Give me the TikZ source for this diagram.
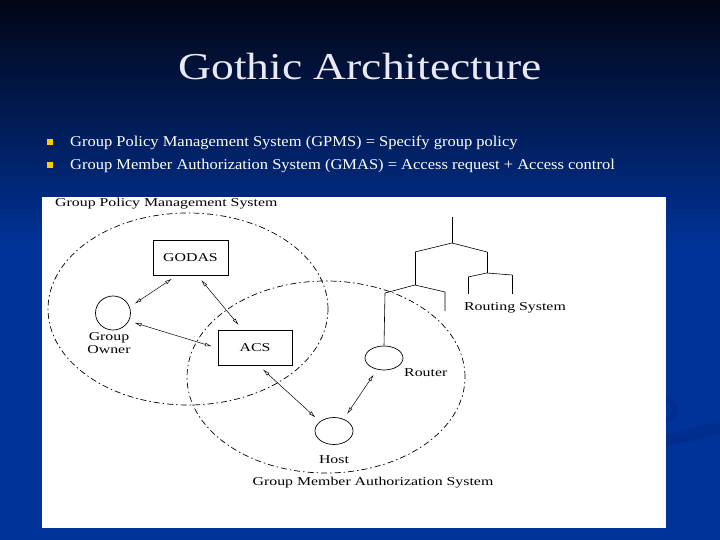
\documentclass[tikz,border=0pt]{standalone}
\usepackage{fontspec}
\setmainfont{Liberation Serif}
\usepackage{xcolor}
\usepackage{graphicx}
\usepackage{tikz}
\usetikzlibrary{arrows.meta,shapes.geometric}

\definecolor{slidetop}{RGB}{2,6,22}
\definecolor{slideblue}{RGB}{0,51,153}
\definecolor{swirlblue}{RGB}{0,45,142}
\definecolor{titlegray}{RGB}{232,232,246}
\definecolor{bulletyellow}{RGB}{255,204,0}

\newcommand{\wide}[1]{\scalebox{1.32}[1]{#1}}

\begin{document}
\begin{tikzpicture}[x=1pt,y=-1pt,
  every node/.style={inner sep=0pt,font=\fontsize{12}{12.5}\selectfont},
  box/.style={draw,line width=0.8pt,minimum width=75pt,minimum height=35pt},
  station/.style={draw,line width=0.7pt,ellipse,minimum width=38pt,minimum height=26pt},
  bullet/.style={fill=bulletyellow,minimum size=6pt},
  ring/.style={line width=0.7pt,dash pattern=on 6pt off 3pt on 1.5pt off 3pt},
  link/.style={line width=0.5pt,{Latex[open,length=7pt,width=3.5pt]}-{Latex[open,length=7pt,width=3.5pt]},
    shorten <=6pt,shorten >=6pt},
  tree/.style={line width=0.6pt}]
  \useasboundingbox (0,0) rectangle (720,540);
  % slide background
  \fill[slideblue] (0,0) rectangle (720,540);
  \shade[top color=slidetop,bottom color=slideblue] (0,0) rectangle (720,250);
  \draw[swirlblue,line width=12pt] (640,446) .. controls (680,438) .. (720,427);
  \draw[swirlblue,line width=5pt] (655,397) .. controls (682,400) and (682,420) .. (655,423);
  \node[text=titlegray,anchor=base] (title) at (360,80)
    {\fontsize{38}{40}\selectfont\scalebox{1.2}[1]{Gothic Architecture}};
  \node[bullet] (b1) at (50,142) {};
  \node[bullet] (b2) at (50,165) {};
  \node[text=white,anchor=base west,font=\fontsize{15}{16}\selectfont] (gpmsline) at (70,147)
    {\scalebox{1.1}[1]{Group Policy Management System (GPMS) = Specify group policy}};
  \node[text=white,anchor=base west,font=\fontsize{15}{16}\selectfont] (gmasline) at (70,170)
    {\scalebox{1.1}[1]{Group Member Authorization System (GMAS) = Access request + Access control}};
  % figure
  \fill[white] (42,197) rectangle (666,528);
  \draw[ring] (188,309) ellipse [x radius=140pt,y radius=96pt];
  \draw[ring] (326,377) ellipse [x radius=139pt,y radius=96pt];
  \node[anchor=west] (gpmslabel) at (55,204) {\wide{Group Policy Management System}};
  \node (gmaslabel) at (373,483) {\wide{Group Member Authorization System}};

  \node[box] (godas) at (190.5,257.5) {\wide{GODAS}};
  \node[box,minimum width=74pt] (acs) at (255,347.5) {\wide{ACS}};
  \node[station,minimum width=35pt,minimum height=34pt] (owner) at (113,313) {};
  \node[align=center] (ownerlabel) at (109,343) {\wide{Group}\\\wide{Owner}};
  \node[station,minimum height=24pt] (router) at (384,358) {};
  \node[anchor=west] (routerlabel) at (404,373) {\wide{Router}};
  \node[station,minimum height=27pt] (host) at (334,431) {};
  \node (hostlabel) at (334,460) {\wide{Host}};

  \draw[link] (owner.20) -- (godas.233);
  \draw[link] (godas.291) -- (acs.125);
  \draw[link] (owner.333) -- (acs.181);
  \draw[link] (acs.281) -- (host.146);
  \draw[link] (router.239) -- (host.51);

  % routing tree
  \coordinate (rtop) at (452,217);
  \coordinate (rj) at (452,243);
  \coordinate (rl) at (415,252);
  \coordinate (rr) at (487,252);
  \coordinate (rlj) at (415,285);
  \coordinate (rrj) at (487,273);
  \coordinate (rla) at (385,293);
  \coordinate (rlb) at (445,292);
  \coordinate (rlbe) at (445,311);
  \coordinate (rra) at (468,277);
  \coordinate (rrb) at (512,275);
  \coordinate (rrae) at (468,294);
  \coordinate (rrbe) at (512,294);
  \draw[tree] (rtop) -- (rj);
  \draw[tree] (rl) -- (rj) -- (rr);
  \draw[tree] (rl) -- (rlj);
  \draw[tree] (rr) -- (rrj);
  \draw[tree] (rla) -- (rlj) -- (rlb) -- (rlbe);
  \draw[tree] (rla) -- (router.north);
  \draw[tree] (rra) -- (rrj) -- (rrb);
  \draw[tree,line width=1pt] (rra) -- (rrae);
  \draw[tree,line width=1pt] (rrb) -- (rrbe);
  \node (routinglabel) at (515,308) {\wide{Routing System}};
\end{tikzpicture}
\end{document}
